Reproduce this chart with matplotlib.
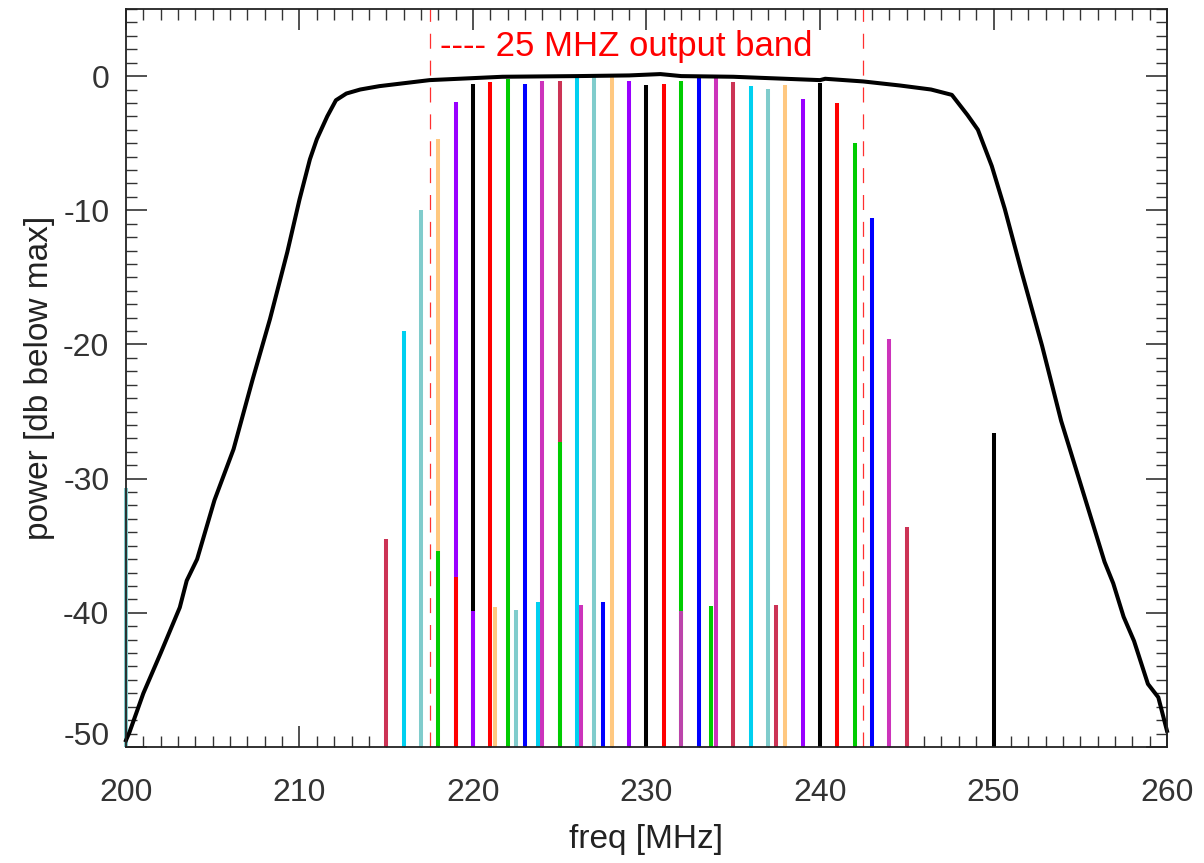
import matplotlib
matplotlib.use("Agg")
import matplotlib.pyplot as plt
from matplotlib.ticker import MultipleLocator
from matplotlib.transforms import ScaledTranslation

plt.rcParams["font.family"] = ["Liberation Sans", "DejaVu Sans"]
plt.rcParams["axes.unicode_minus"] = False

# bandpass response (MHz, dB)
curve_freq = [200.0, 200.2, 201.0, 202.0, 203.1, 203.5, 204.1, 205.1, 206.2, 207.3,
              208.3, 209.3, 210.0, 210.6, 211.0, 211.6, 212.1, 212.7, 213.5, 214.6,
              217.5, 221.7, 226.0, 229.0, 230.8, 232.0, 235.0, 240.0, 240.3, 242.5,
              244.6, 246.4, 247.6, 248.5, 249.1, 249.9, 250.65, 251.6, 252.8, 253.9,
              254.9, 256.4, 256.9, 257.5, 258.1, 258.9, 259.5, 260.0]
curve_db = [-49.5, -48.9, -46.0, -43.0, -39.6, -37.6, -36.0, -31.6, -27.8, -22.6,
            -18.1, -13.1, -9.2, -6.2, -4.7, -3.0, -1.8, -1.3, -1.0, -0.75,
            -0.3, -0.05, 0.0, 0.05, 0.15, 0.0, -0.05, -0.3, -0.2, -0.4,
            -0.7, -1.0, -1.4, -2.9, -4.0, -6.7, -9.9, -14.5, -20.1, -25.7,
            -29.9, -36.2, -37.8, -40.3, -42.1, -45.3, -46.3, -48.8]

# tone lines
tone_freq = [200, 215, 216, 217, 218, 219, 220, 221, 222, 223, 224, 225, 226, 227, 228,
             229, 230, 231, 232, 233, 234, 235, 236, 237, 238, 239, 240, 241, 242,
             243, 244, 245, 250]
tone_db = [-30.7, -34.5, -19.0, -10.0, -4.7, -1.9, -0.6, -0.47, -0.22, -0.6, -0.4,
           -0.35, -0.1, 0.0, -0.1, -0.4, -0.65, -0.6, -0.4, -0.15, -0.17, -0.47,
           -0.77, -0.97, -0.65, -1.67, -0.52, -1.97, -5.0, -10.6, -19.6, -33.6, -26.6]

CRIM, CYAN, TEAL, PEACH = "#cc3355", "#00d0f0", "#80cccc", "#ffc880"
PURP, RED, GREEN, BLUE, MAG = "#9900ff", "#ff0000", "#00cc00", "#0000ff", "#cc33bb"
cycle = [CRIM, CYAN, TEAL, PEACH, PURP, "black", RED, GREEN, BLUE, MAG]
tone_colors = [TEAL] + [cycle[(f - 215) % 10] for f in tone_freq[1:]]

# weaker tones drawn over the lower part
over_freq = [218, 219, 220, 221.27, 222.46, 223.73, 225, 226.22, 227.5, 232, 233.7, 237.46]
over_db = [-35.4, -37.3, -39.9, -39.6, -39.8, -39.2, -27.3, -39.4, -39.2, -39.9, -39.5, -39.4]
over_colors = [GREEN, RED, PURP, PEACH, TEAL, CYAN, GREEN, MAG, BLUE, "#bb44aa", GREEN, CRIM]

band_edges = [217.5, 242.5]

fig = plt.figure(figsize=(12.04, 8.63), dpi=100)
ax = fig.add_axes([0.10465, 0.13441, 0.86462, 0.85516])

ax.vlines(tone_freq, -50, tone_db, colors=tone_colors, linewidth=2.9, clip_on=False)
ax.vlines(over_freq, -50, over_db, colors=over_colors, linewidth=2.9)
ax.plot(curve_freq, curve_db, color="black", linewidth=2.9, clip_on=False)
for x in band_edges:
    ax.axvline(x, color="#ff3030", linewidth=0.9, dashes=(12, 9.5))

ax.text(218.1, 2.2, "---- 25 MHZ output band", color="red", fontsize=25,
        va="center", ha="left")

ax.set_xlim(200, 260)
ax.set_ylim(-50, 5)
ax.xaxis.set_major_locator(MultipleLocator(10))
ax.xaxis.set_minor_locator(MultipleLocator(1))
ax.yaxis.set_major_locator(MultipleLocator(10))
ax.yaxis.set_minor_locator(MultipleLocator(1))
ax.tick_params(which="both", direction="in", top=True, right=True, color="#333333")
ax.tick_params(which="major", length=15, width=1.2, labelsize=23, labelcolor="#333333")
ax.tick_params(which="minor", length=8, width=1.0)
ax.tick_params(axis="x", which="major", pad=22)
ax.tick_params(axis="y", which="major", pad=12)
for s in ax.spines.values():
    s.set_linewidth(1.3)
    s.set_color("#222222")

# IDL lifts the bottom y label off the x axis
fig.canvas.draw()
for tick in ax.yaxis.get_major_ticks():
    if abs(tick.get_loc() + 50) < 1e-6:
        lab = tick.label1
        lab.set_transform(lab.get_transform() + ScaledTranslation(0, 10 / 72, fig.dpi_scale_trans))

ax.set_xlabel("freq [MHz]", fontsize=24, color="#222222")
ax.set_ylabel("power [db below max]", fontsize=24, color="#222222")
ax.xaxis.set_label_coords(0.5, -0.105)
ax.yaxis.set_label_coords(-0.068, 0.5)

fig.savefig("out.png", dpi=100)
